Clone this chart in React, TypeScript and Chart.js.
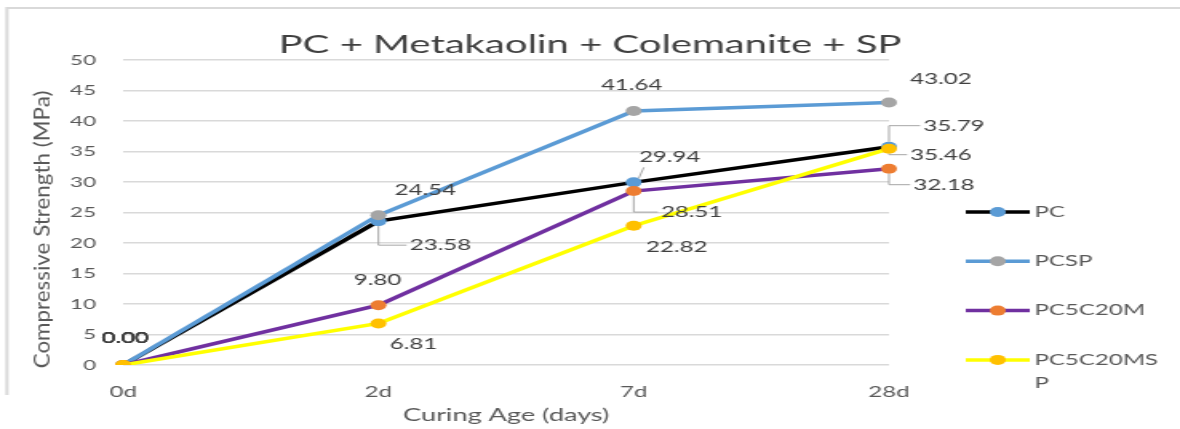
import React, { useEffect, useRef } from 'react';
import { Chart, registerables } from 'chart.js';

Chart.register(...registerables);

// ---------- data ----------
const categories = ['0d', '2d', '7d', '28d'];
const seriesNames = ['PC', 'PCSP', 'PC5C20M', 'PC5C20MSP'];
const pcValues = [0.0, 23.58, 29.94, 35.79];
const pcspValues = [0.0, 24.54, 41.64, 43.02];
const pc5c20mValues = [0.0, 9.8, 28.51, 32.18];
const pc5c20mspValues = [0.0, 6.81, 22.82, 35.46];
const yMin = 0;
const yMax = 50;
const yStep = 5;
const chartTitle = 'PC + Metakaolin + Colemanite + SP';
const xTitle = 'Curing Age (days)';
const yTitle = 'Compressive Strength (MPa)';

// ---------- styles ----------
const lineColors = ['#000000', '#5B9BD5', '#7030A0', '#FFFF00'];
const markerColors = ['#5B9BD5', '#A5A5A5', '#ED7D31', '#FFC000'];
const FONT = "Lato, 'Open Sans', sans-serif";
const CSS_W = 1180;
const CSS_H = 429;
const STRETCH = 1.6; // the reference is stretched horizontally
const W = Math.round(CSS_W / STRETCH);
const H = CSS_H;

// label offsets relative to the point, in screen px: [dx, dy, leader]
// leader: 0 none, 1 L-shaped, 2 diagonal
const labelOffsets: number[][][] = [
  [[2, -27, 0], [62, 24, 1], [36, -25, 2], [65, -21, 1]],
  [[2, -27, 0], [47, -25, 0], [-2, -26, 0], [52, -23, 0]],
  [[2, -27, 0], [-1, -25, 0], [58, 21, 1], [55, 16, 1]],
  [[2, -27, 0], [35, 21, 0], [43, 21, 0], [52, 6, 1]],
];

const framePlugin = {
  id: 'frame',
  beforeDraw(chart: any) {
    const ctx = chart.ctx;
    ctx.save();
    ctx.fillStyle = '#ffffff';
    ctx.fillRect(0, 0, chart.width, chart.height);
    ctx.strokeStyle = '#d9d9d9';
    ctx.lineWidth = 2;
    ctx.beginPath();
    ctx.moveTo(7 / STRETCH, 395);
    ctx.lineTo(7 / STRETCH, 8);
    ctx.lineTo(chart.width, 8);
    ctx.stroke();
    ctx.restore();
  },
};

const labelPlugin = {
  id: 'pointLabels',
  afterDatasetsDraw(chart: any) {
    const ctx = chart.ctx;
    ctx.save();
    ctx.font = `15px ${FONT}`;
    ctx.textAlign = 'center';
    ctx.textBaseline = 'middle';
    chart.data.datasets.forEach((ds: any, di: number) => {
      const meta = chart.getDatasetMeta(di);
      meta.data.forEach((pt: any, i: number) => {
        const off = labelOffsets[di][i];
        const x = pt.x + off[0] / STRETCH;
        const y = pt.y + off[1];
        const text = Number(ds.data[i]).toFixed(2);
        const w = ctx.measureText(text).width;
        if (off[2]) {
          ctx.strokeStyle = '#a6a6a6';
          ctx.lineWidth = 1;
          ctx.beginPath();
          const lx = x - w / 2 - 2;
          if (off[2] === 1) {
            ctx.moveTo(pt.x, pt.y + (off[1] > 0 ? 5 : -5));
            ctx.lineTo(pt.x, y);
            ctx.lineTo(lx, y);
          } else {
            ctx.moveTo(pt.x + 5 / STRETCH, pt.y - 4);
            ctx.lineTo(lx + 5, y + 10);
          }
          ctx.stroke();
        }
        ctx.fillStyle = '#404040';
        ctx.fillText(text, x, y);
      });
    });
    ctx.restore();
  },
};

const sidePlugin = {
  id: 'sideTexts',
  afterDraw(chart: any) {
    const ctx = chart.ctx;
    const area = chart.chartArea;
    // y axis title (stretched along its reading direction)
    ctx.save();
    ctx.translate(area.left - 51, (area.top + area.bottom) / 2 + 17);
    ctx.rotate(-Math.PI / 2);
    ctx.scale(STRETCH, 1);
    ctx.font = `14px ${FONT}`;
    ctx.fillStyle = '#595959';
    ctx.textAlign = 'center';
    ctx.textBaseline = 'middle';
    ctx.fillText(yTitle, 0, 0);
    ctx.restore();

    // legend
    ctx.save();
    ctx.font = `15px ${FONT}`;
    ctx.textBaseline = 'middle';
    ctx.textAlign = 'left';
    const lineX0 = area.right + 48;
    const lineX1 = area.right + 88;
    const markX = area.right + 68;
    const textX = area.right + 91;
    const maxW = 80;
    let y = 212;
    chart.data.datasets.forEach((ds: any) => {
      ctx.strokeStyle = ds.borderColor;
      ctx.lineWidth = 3.5;
      ctx.beginPath();
      ctx.moveTo(lineX0, y);
      ctx.lineTo(lineX1, y);
      ctx.stroke();
      ctx.fillStyle = ds.pointBackgroundColor;
      ctx.beginPath();
      ctx.arc(markX, y, 5, 0, Math.PI * 2);
      ctx.fill();
      const lines: string[] = [];
      let cur = '';
      for (const ch of ds.label as string) {
        if (ctx.measureText(cur + ch).width > maxW && cur) {
          lines.push(cur);
          cur = ch;
        } else cur += ch;
      }
      lines.push(cur);
      ctx.fillStyle = '#595959';
      lines.forEach((ln, k) => ctx.fillText(ln, textX, y + k * 23));
      y += 49.3;
    });
    ctx.restore();
  },
};

const valueSets = [pcValues, pcspValues, pc5c20mValues, pc5c20mspValues];

export default function App() {
  const ref = useRef<HTMLCanvasElement | null>(null);
  useEffect(() => {
    if (!ref.current) return;
    const chart = new Chart(ref.current, {
      type: 'line',
      data: {
        labels: categories,
        datasets: seriesNames.map((name, i) => ({
          label: name,
          data: valueSets[i],
          borderColor: lineColors[i],
          backgroundColor: lineColors[i],
          pointBackgroundColor: markerColors[i],
          pointBorderColor: markerColors[i],
          pointBorderWidth: 0,
          pointRadius: 5,
          borderWidth: 3.5,
          tension: 0,
          fill: false,
          order: seriesNames.length - i,
        })),
      },
      options: {
        responsive: false,
        devicePixelRatio: 1,
        animation: false,
        layout: { padding: { left: 0, right: 0, top: 0, bottom: 0 } },
        plugins: {
          legend: { display: false },
          tooltip: { enabled: false },
          title: {
            display: true,
            text: chartTitle,
            color: '#404040',
            font: { family: FONT, size: 25, weight: 'normal' },
            padding: { top: 30, bottom: 0 },
          },
        },
        scales: {
          x: {
            offset: false,
            grid: { display: false, drawTicks: false },
            border: { display: false },
            ticks: { color: '#595959', font: { family: FONT, size: 15 }, padding: 18, maxRotation: 0 },
            title: {
              display: true,
              text: xTitle,
              color: '#595959',
              font: { family: FONT, size: 17 },
              padding: { top: 0, bottom: 3 },
            },
            afterFit: (s: any) => {
              s.height = 64;
            },
          },
          y: {
            min: yMin,
            max: yMax,
            grid: { color: '#d9d9d9', lineWidth: 1.5, drawTicks: false },
            border: { display: false },
            ticks: { stepSize: yStep, color: '#595959', font: { family: FONT, size: 14 }, padding: 17 },
            afterFit: (s: any) => {
              s.width = 77;
            },
          },
          yRight: {
            type: 'linear',
            position: 'right',
            display: true,
            grid: { display: false, drawTicks: false },
            border: { display: false },
            ticks: { display: false },
            afterFit: (s: any) => {
              s.width = 182;
            },
          },
        },
      },
      plugins: [framePlugin, labelPlugin, sidePlugin],
    } as any);
    return () => chart.destroy();
  }, []);

  return (
    <div style={{ position: 'fixed', left: 0, top: 0, width: CSS_W, height: CSS_H, background: '#fff' }}>
      <canvas
        ref={ref}
        width={W}
        height={H}
        style={{ width: `${CSS_W}px`, height: `${CSS_H}px`, display: 'block' }}
      />
    </div>
  );
}
